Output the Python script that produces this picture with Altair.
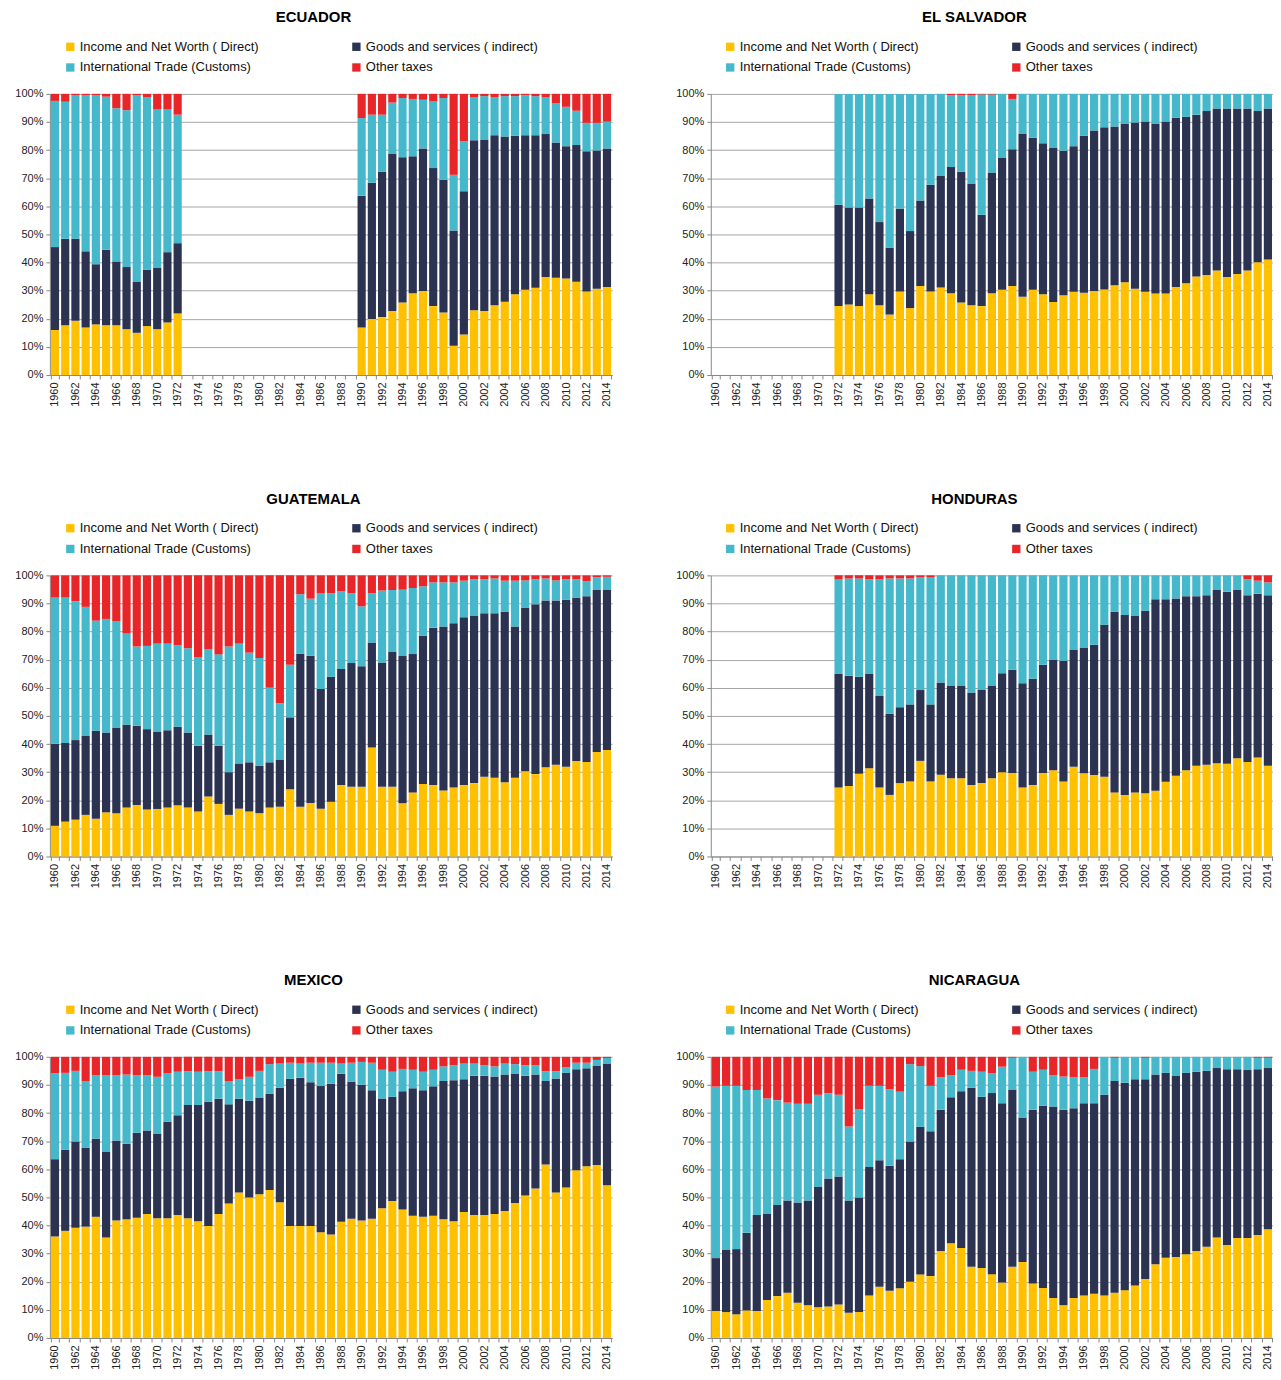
import altair as alt
import pandas as pd

YEARS = list(range(1960, 2015))
# stacking order, bottom to top
CATS = ["Income and Net Worth ( Direct)", "Goods and services ( indirect)",
        "International Trade (Customs)", "Other taxes"]
COLOR_OF = {"Income and Net Worth ( Direct)": "#FFC000",
            "Goods and services ( indirect)": "#2C3350",
            "International Trade (Customs)": "#45B8CB",
            "Other taxes": "#E8262A"}
# legend order (filled column by column)
LEGEND_ORDER = ["Income and Net Worth ( Direct)", "International Trade (Customs)",
                "Goods and services ( indirect)", "Other taxes"]
N = None

# Cumulative shares (%): top of Direct, top of Indirect, top of Customs.
ecuador_direct = [16.0, 17.7, 19.3, 16.9, 18.0, 17.7, 17.7, 16.3, 15.0, 17.4, 16.3, 18.7, 21.9] + [N] * 17 + \
    [16.9, 19.9, 20.6, 22.8, 25.8, 29.1, 29.9, 24.5, 22.2, 10.4, 14.4, 23.0, 22.8, 24.8, 26.1, 28.7, 30.3, 31.0,
     34.9, 34.6, 34.3, 33.2, 29.7, 30.7, 31.3]
ecuador_indirect_top = [45.5, 48.5, 48.5, 44.0, 39.4, 44.6, 40.4, 38.4, 33.1, 37.5, 38.1, 43.7, 46.9] + [N] * 17 + \
    [63.8, 68.4, 72.3, 78.8, 77.5, 77.8, 80.6, 73.6, 69.4, 51.4, 65.4, 83.5, 83.8, 85.3, 84.8, 85.1, 85.3, 85.3,
     85.7, 82.7, 81.4, 81.8, 79.6, 79.9, 80.6]
ecuador_customs_top = [97.5, 97.2, 99.5, 99.5, 99.5, 99.0, 94.9, 94.2, 99.5, 98.9, 94.6, 94.6, 92.6] + [N] * 17 + \
    [91.4, 92.6, 92.6, 96.9, 98.5, 98.2, 97.9, 97.3, 98.5, 71.2, 83.2, 98.9, 99.2, 98.9, 99.2, 99.2, 99.5, 99.2,
     98.9, 96.6, 95.4, 94.0, 89.7, 89.7, 90.1]

salvador_direct = [N] * 12 + \
    [24.5, 25.1, 24.5, 28.7, 24.8, 21.5, 29.7, 23.8, 31.7, 29.7, 31.1,
     29.1, 25.8, 24.8, 24.5, 29.1, 30.3, 31.7, 27.8, 30.3, 28.7, 26.0,
     28.4, 29.6, 29.3, 29.9, 30.4, 31.9, 33.0, 30.7, 29.6, 29.0, 29.0,
     31.3, 32.6, 35.0, 35.6, 37.2, 34.9, 35.9, 37.2, 40.1, 41.1]
salvador_indirect_top = [N] * 12 + \
    [60.6, 59.6, 59.6, 62.8, 54.4, 45.3, 59.2, 51.2, 62.1, 67.7, 71.0,
     74.0, 72.3, 68.1, 57.0, 72.0, 77.2, 80.3, 85.9, 84.4, 82.4, 80.9,
     79.8, 81.4, 85.1, 87.0, 88.1, 88.4, 89.5, 89.8, 90.2, 89.5, 90.2,
     91.5, 91.8, 92.6, 93.9, 94.8, 94.8, 94.8, 94.8, 93.9, 94.8]
salvador_customs_top = [N] * 12 + \
    [100, 100, 100, 100, 100, 100, 100, 100, 100, 100, 100,
     99.5, 99.5, 99.5, 99.8, 99.8, 100, 98.2, 100, 100, 100, 100,
     100, 100, 100, 100, 100, 100, 100, 100, 100, 100, 100,
     100, 100, 100, 100, 100, 100, 100, 100, 100, 100]

guatemala_direct = [10.9, 12.4, 13.1, 14.8, 13.4, 15.7, 15.4, 17.4, 18.3, 16.7,
                    16.9, 17.4, 18.2, 17.4, 16.0, 21.3, 18.7, 14.8, 17.0, 16.0,
                    15.4, 17.4, 17.7, 23.9, 17.7, 19.0, 17.0, 19.5, 25.4, 24.8,
                    24.8, 38.8, 24.8, 24.8, 18.9, 22.8, 25.8, 25.4, 23.5, 24.5,
                    25.4, 26.1, 28.4, 28.0, 26.4, 28.0, 30.3, 29.3, 31.7, 32.6,
                    31.9, 34.0, 33.6, 37.2, 37.9]
guatemala_indirect_top = [40.1, 40.4, 41.4, 42.9, 44.7, 44.1, 45.9, 46.9, 46.5, 45.3,
                          44.3, 44.9, 46.1, 44.1, 39.4, 43.4, 39.4, 30.0, 33.1, 33.5,
                          32.3, 33.5, 34.5, 49.5, 72.1, 71.4, 59.6, 63.9, 66.7, 68.8,
                          67.7, 76.1, 69.0, 72.9, 71.3, 72.0, 78.5, 81.4, 81.8, 83.0,
                          85.1, 85.7, 86.5, 86.5, 87.0, 81.8, 88.4, 89.7, 91.1, 91.1,
                          91.3, 92.0, 92.6, 94.8, 95.0]
guatemala_customs_top = [92.1, 92.1, 90.8, 88.8, 83.9, 84.5, 83.6, 79.3, 74.7, 74.9,
                         75.7, 75.7, 75.1, 74.1, 70.8, 73.8, 71.9, 74.7, 75.7, 72.5,
                         70.6, 60.0, 54.5, 68.2, 93.3, 91.7, 93.6, 93.6, 94.3, 93.6,
                         89.0, 93.6, 94.6, 94.8, 94.9, 95.5, 96.1, 97.5, 97.5, 97.5,
                         98.1, 98.6, 98.6, 98.9, 98.1, 98.1, 98.2, 98.6, 98.9, 98.2,
                         98.6, 98.6, 97.9, 99.3, 99.5]

honduras_direct = [N] * 12 + \
    [24.5, 25.1, 29.4, 31.4, 24.5, 21.9, 26.1, 26.7, 34.0, 26.7, 29.1,
     27.8, 27.8, 25.4, 26.1, 27.8, 30.0, 29.7, 24.5, 25.4, 29.7, 30.7,
     26.7, 31.9, 29.6, 29.0, 28.4, 22.8, 21.9, 22.8, 22.5, 23.4, 26.6,
     28.7, 30.7, 32.3, 32.6, 33.2, 33.0, 34.9, 33.6, 35.2, 32.3]
honduras_indirect_top = [N] * 12 + \
    [64.9, 64.3, 63.9, 64.9, 57.1, 50.8, 53.1, 54.1, 59.2, 54.1, 61.9,
     60.8, 60.8, 58.3, 59.2, 60.8, 65.2, 66.4, 61.6, 63.2, 68.2, 70.1,
     69.6, 73.6, 74.3, 75.3, 82.4, 87.0, 85.9, 85.7, 87.4, 91.5, 91.5,
     91.8, 92.6, 92.6, 92.9, 94.8, 94.2, 94.8, 92.9, 93.5, 92.9]
honduras_customs_top = [N] * 12 + \
    [98.5, 98.9, 98.9, 98.6, 98.6, 98.9, 98.9, 98.9, 99.3, 99.3, 100,
     100, 100, 100, 100, 100, 100, 100, 100, 100, 100, 100,
     100, 100, 100, 100, 100, 100, 100, 100, 100, 100, 100,
     100, 100, 100, 100, 100, 100, 100, 98.6, 98.1, 97.5]

mexico_direct = [36.1, 38.1, 39.2, 39.6, 43.1, 35.7, 41.8, 42.2, 42.8, 44.1,
                 42.6, 42.6, 43.7, 42.6, 41.5, 39.8, 44.1, 47.8, 51.7, 50.0,
                 51.1, 52.6, 48.3, 39.8, 39.8, 39.8, 37.6, 36.8, 41.3, 42.4,
                 41.8, 42.4, 46.1, 48.7, 45.7, 43.5, 43.1, 43.5, 42.2, 41.5,
                 44.8, 43.7, 43.7, 44.1, 45.2, 48.0, 50.7, 53.2, 61.7, 51.7,
                 53.5, 59.7, 61.1, 61.5, 54.3]
mexico_indirect_top = [63.6, 66.9, 69.9, 67.6, 70.9, 66.3, 70.2, 69.1, 73.0, 73.8,
                       72.7, 76.9, 79.2, 82.9, 82.9, 84.0, 85.1, 83.1, 85.1, 84.4,
                       85.5, 86.8, 89.0, 92.2, 92.6, 91.0, 89.6, 90.4, 94.0, 91.1,
                       90.1, 88.1, 85.2, 85.8, 87.8, 88.8, 88.1, 89.5, 91.4, 91.7,
                       92.0, 93.3, 93.3, 93.0, 93.7, 94.1, 93.3, 93.7, 91.4, 92.3,
                       94.3, 95.6, 95.9, 96.9, 97.6]
mexico_customs_top = [94.1, 94.3, 95.0, 91.4, 93.4, 93.4, 93.4, 93.7, 93.4, 93.4,
                      92.9, 94.1, 94.7, 94.9, 94.7, 94.9, 94.9, 91.4, 92.1, 92.9,
                      95.0, 97.4, 97.6, 97.9, 97.6, 97.9, 97.9, 97.9, 97.6, 97.9,
                      98.2, 97.9, 95.4, 94.7, 95.7, 95.4, 94.7, 95.4, 96.6, 97.0,
                      97.6, 97.6, 97.0, 96.6, 97.6, 97.4, 97.0, 97.0, 94.9, 94.9,
                      96.3, 97.9, 97.9, 98.9, 99.6]

nicaragua_direct = [9.6, 9.2, 8.4, 9.8, 9.6, 13.5, 14.9, 16.1, 12.5, 11.6,
                    10.9, 11.2, 11.9, 9.0, 9.2, 15.1, 18.2, 16.8, 17.7, 20.0,
                    22.6, 22.0, 30.9, 33.7, 32.0, 25.3, 24.9, 22.7, 19.7, 25.3,
                    27.0, 19.4, 17.8, 14.2, 11.6, 14.2, 15.1, 15.7, 15.1, 16.1,
                    17.0, 18.7, 21.0, 26.2, 28.5, 28.8, 29.8, 30.9, 32.4, 35.7,
                    33.1, 35.6, 35.6, 36.6, 38.7]
nicaragua_indirect_top = [28.4, 31.3, 31.6, 37.4, 43.7, 44.1, 47.3, 48.9, 48.2, 48.9,
                          53.7, 56.7, 57.4, 48.9, 50.0, 60.8, 63.2, 61.3, 63.6, 69.9,
                          75.1, 73.5, 81.2, 85.6, 87.8, 89.0, 85.8, 87.1, 83.5, 88.4,
                          78.4, 81.2, 82.6, 82.3, 81.2, 81.7, 83.5, 83.5, 86.5, 91.4,
                          90.8, 92.0, 92.0, 93.7, 94.3, 93.4, 94.3, 94.7, 95.0, 96.0,
                          95.6, 95.6, 95.3, 95.6, 96.0]
nicaragua_customs_top = [89.4, 89.7, 89.7, 88.2, 88.2, 85.2, 84.6, 83.7, 83.3, 83.3,
                         86.5, 87.0, 86.5, 75.2, 81.4, 89.7, 89.7, 88.5, 87.6, 97.4,
                         96.7, 89.7, 92.8, 93.4, 95.4, 95.0, 94.7, 94.1, 96.5, 99.7,
                         100, 94.7, 95.4, 93.5, 93.0, 92.8, 92.8, 95.7, 100, 99.7,
                         100, 100, 99.7, 100, 100, 100, 100, 100, 100, 100,
                         100, 100, 100, 99.7, 99.7]


def build(direct, ind_top, cus_top):
    rows = []
    for k, yr in enumerate(YEARS):
        if direct[k] is None:
            continue
        bounds = [0, direct[k], ind_top[k], cus_top[k], 100]
        for j, cat in enumerate(CATS):
            lo, hi = bounds[j], bounds[j + 1]
            if hi > lo:
                rows.append({"year": str(yr), "cat": cat, "lo": lo, "hi": hi})
    return pd.DataFrame(rows)


FONT = "Liberation Sans"


def panel(name, df, lx):
    return alt.Chart(df).mark_bar().encode(
        x=alt.X("year:N",
                scale=alt.Scale(domain=[str(y) for y in YEARS], paddingInner=0.2, paddingOuter=0.1),
                axis=alt.Axis(title=None, labelAngle=-90, tickBand="extent",
                              labelExpr="parseInt(datum.value) % 2 == 0 ? datum.label : ''",
                              labelOverlap=False, grid=False)),
        y=alt.Y("lo:Q", scale=alt.Scale(domain=[0, 100], nice=False),
                axis=alt.Axis(title=None, values=list(range(0, 101, 10)),
                              labelExpr="datum.value + '%'", grid=True)),
        y2="hi:Q",
        color=alt.Color("cat:N",
                        scale=alt.Scale(domain=LEGEND_ORDER, range=[COLOR_OF[c] for c in LEGEND_ORDER]),
                        legend=alt.Legend(title=None, orient="none", legendX=lx, legendY=-54,
                                          columns=2, columnPadding=91, rowPadding=7,
                                          symbolType="square", symbolSize=70, symbolStrokeWidth=0,
                                          labelFontSize=13, labelFont=FONT, labelColor="#111",
                                          labelLimit=300, labelOffset=3, padding=0)),
    ).properties(
        width=564, height=282,
        title=alt.TitleParams(name, fontSize=15, fontWeight="bold", font=FONT, color="#000",
                              anchor="middle", frame="bounds", offset=15),
    )


charts = [
    panel("ECUADOR", build(ecuador_direct, ecuador_indirect_top, ecuador_customs_top), 14),
    panel("EL SALVADOR", build(salvador_direct, salvador_indirect_top, salvador_customs_top), 13),
    panel("GUATEMALA", build(guatemala_direct, guatemala_indirect_top, guatemala_customs_top), 14),
    panel("HONDURAS", build(honduras_direct, honduras_indirect_top, honduras_customs_top), 13),
    panel("MEXICO", build(mexico_direct, mexico_indirect_top, mexico_customs_top), 14),
    panel("NICARAGUA", build(nicaragua_direct, nicaragua_indirect_top, nicaragua_customs_top), 13),
]

rows = []
for i in range(0, 6, 2):
    rows.append(alt.hconcat(charts[i], charts[i + 1], spacing=63)
                .resolve_scale(color="independent").resolve_legend(color="independent"))

chart = alt.vconcat(*rows, spacing=85).resolve_scale(color="independent").resolve_legend(color="independent")

chart = chart.properties(padding={"left": 6, "top": 0, "right": 0, "bottom": 0}).configure_view(
    stroke=None
).configure_axis(
    labelFont=FONT, labelFontSize=11, labelColor="#222",
    domainColor="#888", tickColor="#888", gridColor="#a6a6a6", tickSize=4, labelPadding=3,
)

chart.save("out.html", embed_options={"renderer": "svg", "actions": False})
